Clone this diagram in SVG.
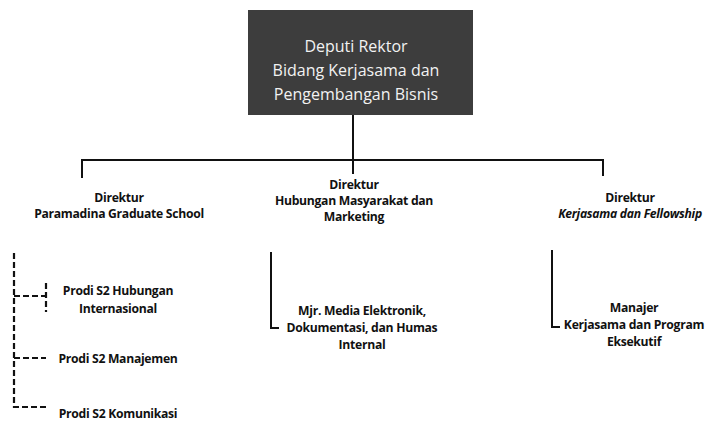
<svg xmlns="http://www.w3.org/2000/svg" width="713" height="425" viewBox="0 0 713 425">
<style>
.t{font-family:"Open Sans","Liberation Sans",sans-serif;font-size:12.2px;font-weight:bold;fill:#111;text-anchor:middle;letter-spacing:-0.3px}
.h{font-family:"Open Sans","Liberation Sans",sans-serif;font-size:16px;fill:#f2f2f2;text-anchor:middle}
.s{stroke:#111;stroke-width:2;fill:none}
.d{stroke:#111;stroke-width:2.2;fill:none;stroke-dasharray:6 3}
</style>
<rect width="713" height="425" fill="#ffffff"/>
<g id="connectors">
<path class="s" d="M353 115V174"/>
<path class="s" d="M82 178V160H603V176"/>
<path class="d" d="M14 253V407H46"/>
<path class="d" d="M14 296H46"/>
<path class="d" d="M14 358H46"/>
<path class="d" d="M46 283V312" stroke-dasharray="2 4"/>
<path class="s" d="M271 252V328H279"/>
<path class="s" d="M552 250V327H560"/>
</g>
<g id="deputi">
<rect x="248" y="10" width="225" height="105" fill="#3d3d3d"/>
<text class="h" x="356" y="52">Deputi Rektor</text>
<text class="h" x="356" y="76">Bidang Kerjasama dan</text>
<text class="h" x="356" y="100">Pengembangan Bisnis</text>
</g>
<g id="dir-pgs">
<text class="t" x="119" y="202">Direktur</text>
<text class="t" x="119" y="218">Paramadina Graduate School</text>
</g>
<g id="dir-humas">
<text class="t" x="354" y="189">Direktur</text>
<text class="t" x="354" y="205">Hubungan Masyarakat dan</text>
<text class="t" x="354" y="221">Marketing</text>
</g>
<g id="dir-kerjasama">
<text class="t" x="630" y="202">Direktur</text>
<text class="t" x="630" y="218" font-style="italic">Kerjasama dan Fellowship</text>
</g>
<g id="prodi-hi">
<text class="t" x="118" y="295">Prodi S2 Hubungan</text>
<text class="t" x="118" y="313">Internasional</text>
</g>
<g id="prodi-man">
<text class="t" x="118" y="363">Prodi S2 Manajemen</text>
</g>
<g id="prodi-kom">
<text class="t" x="118" y="418">Prodi S2 Komunikasi</text>
</g>
<g id="mjr-media">
<text class="t" x="362" y="315">Mjr. Media Elektronik,</text>
<text class="t" x="362" y="332">Dokumentasi, dan Humas</text>
<text class="t" x="362" y="349">Internal</text>
</g>
<g id="manajer-kerjasama">
<text class="t" x="634" y="312">Manajer</text>
<text class="t" x="634" y="329">Kerjasama dan Program</text>
<text class="t" x="634" y="346">Eksekutif</text>
</g>
</svg>
